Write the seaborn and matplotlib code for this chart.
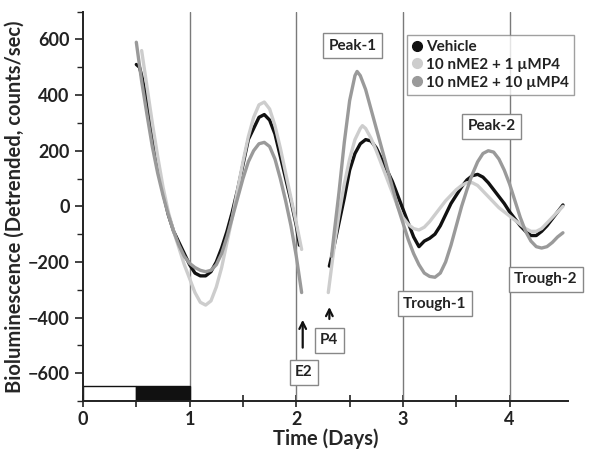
import numpy as np
import pandas as pd
import matplotlib
matplotlib.use("Agg")
import matplotlib.pyplot as plt
import seaborn as sns
from matplotlib.lines import Line2D

sns.set_theme(style="ticks")
plt.rcParams['font.family'] = ['Lato', 'DejaVu Sans']
plt.rcParams['font.weight'] = 'bold'

series_names = ["Vehicle", "10 nME2 + 1 \u00b5MP4", "10 nME2 + 10 \u00b5MP4"]
series_colors = ["#111111", "#cdcdcd", "#9a9a9a"]

# Vehicle
veh_x1 = [0.50, 0.53, 0.55, 0.60, 0.65, 0.70, 0.75, 0.80, 0.85, 0.90, 0.95, 1.00, 1.05, 1.10, 1.15,
          1.20, 1.25, 1.30, 1.35, 1.40, 1.45, 1.50, 1.55, 1.60, 1.65, 1.70, 1.75, 1.80, 1.85, 1.90,
          1.95, 2.00, 2.03]
veh_y1 = [510, 500, 470, 380, 270, 160, 50, -30, -90, -130, -170, -210, -240, -250, -250,
          -235, -200, -150, -90, -20, 60, 150, 240, 280, 320, 330, 310, 260, 180, 100,
          20, -70, -140]
veh_x2 = [2.31, 2.35, 2.40, 2.45, 2.50, 2.55, 2.60, 2.65, 2.70, 2.75, 2.80, 2.85, 2.90, 2.95, 3.00,
          3.05, 3.10, 3.15, 3.20, 3.25, 3.30, 3.35, 3.40, 3.45, 3.50, 3.55, 3.60, 3.65, 3.70, 3.75,
          3.80, 3.85, 3.90, 3.95, 4.00, 4.05, 4.10, 4.15, 4.20, 4.25, 4.30, 4.35, 4.40, 4.45, 4.50]
veh_y2 = [-215, -150, -60, 30, 130, 190, 225, 240, 235, 210, 170, 130, 90, 40, -10,
          -60, -110, -145, -125, -115, -100, -70, -30, 10, 40, 70, 95, 110, 115, 105,
          85, 60, 35, 10, -20, -45, -70, -90, -105, -105, -90, -70, -45, -20, 5]

# 10 nM E2 + 1 uM P4 (light gray)
lo_x1 = [0.55, 0.60, 0.65, 0.70, 0.75, 0.80, 0.85, 0.90, 0.95, 1.00, 1.05, 1.10, 1.15, 1.20, 1.25,
         1.30, 1.35, 1.40, 1.45, 1.50, 1.55, 1.60, 1.65, 1.70, 1.75, 1.80, 1.85, 1.90, 1.95, 2.00, 2.05]
lo_y1 = [560, 430, 300, 180, 70, -20, -90, -150, -210, -260, -310, -345, -355, -340, -290,
         -220, -130, -40, 60, 160, 250, 320, 365, 375, 350, 290, 210, 120, 30, -60, -155]
lo_x2 = [2.30, 2.33, 2.36, 2.40, 2.45, 2.50, 2.55, 2.60, 2.62, 2.65, 2.70, 2.75, 2.80, 2.85, 2.90,
         2.95, 3.00, 3.05, 3.10, 3.15, 3.20, 3.25, 3.30, 3.35, 3.40, 3.45, 3.50, 3.55, 3.60, 3.65,
         3.70, 3.75, 3.80, 3.85, 3.90, 3.95, 4.00, 4.05, 4.10, 4.15, 4.20, 4.25, 4.30, 4.35, 4.40,
         4.45, 4.50]
lo_y2 = [-310, -220, -130, -30, 80, 170, 240, 280, 290, 280, 245, 200, 150, 100, 50,
         0, -40, -65, -80, -85, -75, -55, -30, -5, 20, 40, 60, 75, 85, 85,
         75, 55, 35, 15, -5, -20, -35, -50, -65, -80, -90, -90, -80, -60, -40,
         -20, 0]

# 10 nM E2 + 10 uM P4 (medium gray)
hi_x1 = [0.50, 0.55, 0.60, 0.65, 0.70, 0.75, 0.80, 0.85, 0.90, 0.95, 1.00, 1.05, 1.10, 1.15, 1.20,
         1.25, 1.30, 1.35, 1.40, 1.45, 1.50, 1.55, 1.60, 1.65, 1.70, 1.75, 1.80, 1.85, 1.90, 1.95,
         2.00, 2.05]
hi_y1 = [590, 450, 330, 215, 120, 40, -30, -90, -140, -180, -205, -220, -230, -235, -230,
         -210, -170, -110, -40, 30, 100, 160, 200, 225, 230, 215, 170, 100, 20, -70,
         -180, -310]
hi_x2 = [2.33, 2.36, 2.40, 2.45, 2.50, 2.55, 2.57, 2.60, 2.65, 2.70, 2.75, 2.80, 2.85, 2.90, 2.95,
         3.00, 3.05, 3.10, 3.15, 3.20, 3.25, 3.30, 3.35, 3.40, 3.45, 3.50, 3.55, 3.60, 3.65, 3.70,
         3.75, 3.80, 3.85, 3.90, 3.95, 4.00, 4.05, 4.10, 4.15, 4.20, 4.25, 4.30, 4.35, 4.40, 4.45,
         4.50]
hi_y2 = [-180, -80, 50, 230, 380, 470, 485, 470, 420, 350, 280, 210, 140, 70, 0,
         -60, -120, -170, -210, -240, -252, -255, -240, -200, -140, -70, 0, 60, 115, 160,
         190, 200, 195, 170, 130, 80, 20, -40, -90, -125, -145, -150, -145, -130, -110,
         -95]

# light/dark bar
ld_start = [0.0, 0.5]
ld_width = [0.5, 0.5]
ld_colors = ["white", "#111111"]

day_lines = [1, 2, 3, 4]

# annotation labels: (text, x, y)
labels = [("Peak-1", 2.53, 578), ("Peak-2", 3.83, 288), ("Trough-1", 3.30, -350),
          ("Trough-2", 4.34, -263), ("E2", 2.07, -597), ("P4", 2.31, -482)]
arrows = [(2.06, -518, -398), (2.31, -415, -352)]

rows = []
for name, segs in [(series_names[0], [(veh_x1, veh_y1), (veh_x2, veh_y2)]),
                   (series_names[1], [(lo_x1, lo_y1), (lo_x2, lo_y2)]),
                   (series_names[2], [(hi_x1, hi_y1), (hi_x2, hi_y2)])]:
    for si, (xs, ys) in enumerate(segs):
        for xv, yv in zip(xs, ys):
            rows.append({"t": xv, "v": yv, "series": name, "seg": si})
df = pd.DataFrame(rows)

fig = plt.figure(figsize=(5.97, 4.57), dpi=100)
ax = fig.add_axes([0.139, 0.1225, 0.812, 0.852])

for d in day_lines:
    ax.axvline(d, color="#7a7a7a", lw=1.0, zorder=1)

draw_order = [1, 2, 0]
for i in draw_order:
    sub = df[df.series == series_names[i]]
    sns.lineplot(data=sub, x="t", y="v", units="seg", estimator=None, sort=False,
                 color=series_colors[i], lw=2.4, ax=ax, legend=False, zorder=3 + i)

ax.bar(ld_start, [55, 55], bottom=-700, width=ld_width, align="edge",
       color=ld_colors, edgecolor="#111111", lw=1.0, zorder=2)

for txt, xv, yv in labels:
    ax.text(xv, yv, txt, ha="center", va="center", fontsize=11, fontweight="bold",
            color="#222222", zorder=6,
            bbox=dict(boxstyle="square,pad=0.35", fc="white", ec="#888888", lw=1.0))
for xv, y0, y1 in arrows:
    ax.annotate("", xy=(xv, y1), xytext=(xv, y0),
                arrowprops=dict(arrowstyle="->", color="#111111", lw=1.6), zorder=6)

ax.set_xlim(0, 4.545)
ax.set_ylim(-700, 700)
ax.set_xticks([0, 1, 2, 3, 4])
ax.set_xticks([0.5, 1.5, 2.5, 3.5], minor=True)
ax.set_yticks([-600, -400, -200, 0, 200, 400, 600])
ax.set_yticks([-700, -500, -300, -100, 100, 300, 500, 700], minor=True)
ax.tick_params(axis="x", which="both", direction="inout", length=8, width=1.2, labelsize=13, colors="#222222")
ax.tick_params(axis="y", which="major", direction="out", length=6, width=1.2, labelsize=13, colors="#222222")
ax.tick_params(axis="y", which="minor", direction="out", length=4, width=1.0)
for lab in ax.get_xticklabels() + ax.get_yticklabels():
    lab.set_fontweight("bold")
for s in ["top", "right"]:
    ax.spines[s].set_visible(False)
for s in ["left", "bottom"]:
    ax.spines[s].set_linewidth(1.4)
    ax.spines[s].set_color("#222222")

ax.set_xlabel("Time (Days)", fontsize=14.5, fontweight="bold", labelpad=0)
ax.set_ylabel("Bioluminescence (Detrended, counts/sec)", fontsize=14.5, fontweight="bold", labelpad=2)

handles = [Line2D([], [], ls="none", marker="o", ms=7, color=c) for c in series_colors]
leg = ax.legend(handles, series_names, loc="upper left", bbox_to_anchor=(0.668, 0.941),
                fontsize=11, frameon=True, fancybox=False, handlelength=0.6, handletextpad=0.3,
                borderpad=0.35, labelspacing=0.25, borderaxespad=0)
leg.get_frame().set_edgecolor("#888888")
leg.get_frame().set_linewidth(1.0)
for t in leg.get_texts():
    t.set_fontweight("bold")
    t.set_color("#222222")

fig.savefig("out.png", dpi=100, facecolor="white")
